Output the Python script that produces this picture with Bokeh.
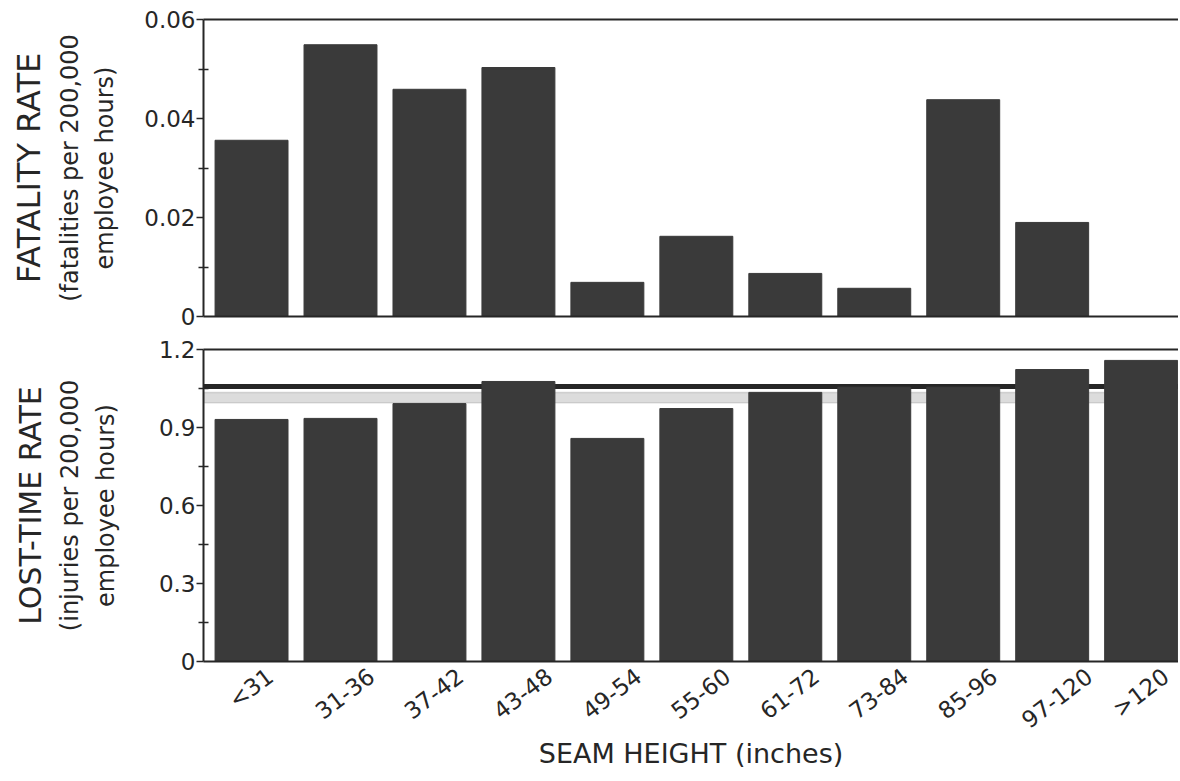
from bokeh.plotting import figure
from bokeh.models import Range1d, FixedTicker, LinearAxis, Title, Span, BoxAnnotation
from bokeh.layouts import column
from bokeh.embed import file_html
from bokeh.resources import INLINE

categories = ["<31", "31-36", "37-42", "43-48", "49-54", "55-60",
              "61-72", "73-84", "85-96", "97-120", ">120"]
fatality_rate = [0.0356, 0.0549, 0.0459, 0.0503, 0.0069, 0.0162,
                 0.0087, 0.0057, 0.0438, 0.0190, 0.0]
lost_time_rate = [0.931, 0.935, 0.992, 1.077, 0.858, 0.973,
                  1.035, 1.055, 1.055, 1.123, 1.158]
fat_ticks = [0, 0.02, 0.04, 0.06]
fat_minor = [0.01, 0.03, 0.05]
fat_labels = ["0", "0.02", "0.04", "0.06"]
lt_ticks = [0, 0.3, 0.6, 0.9, 1.2]
lt_minor = [0.15, 0.45, 0.75, 1.05]
lt_labels = ["0", "0.3", "0.6", "0.9", "1.2"]

FONT = "DejaVu Sans"
INK = "#262626"
BAR = "#3a3a3a"
W = 1178
x_pos = list(range(len(categories)))


def make_fig(height, y_end, top, bottom):
    p = figure(width=W, height=height, x_range=Range1d(-0.54, 10.42),
               y_range=Range1d(0, y_end), x_axis_type=None, y_axis_type=None,
               output_backend="svg", toolbar_location=None,
               min_border_left=203, min_border_right=0,
               min_border_top=top, min_border_bottom=bottom)
    p.outline_line_color = None
    p.background_fill_color = "white"
    p.border_fill_color = "white"
    return p


def border_axis():
    a = LinearAxis(ticker=FixedTicker(ticks=[]))
    a.major_label_text_font_size = "0px"
    a.major_tick_out = 0
    a.major_tick_in = 0
    a.minor_tick_out = 0
    a.minor_tick_in = 0
    a.major_label_standoff = 0
    a.axis_line_color = INK
    a.axis_line_width = 2
    return a


def y_axis(ticks, minor, labels, sub2, standoff):
    a = LinearAxis(ticker=FixedTicker(ticks=ticks, minor_ticks=minor))
    a.major_label_overrides = {t: l for t, l in zip(ticks, labels)}
    a.major_label_text_font = FONT
    a.major_label_text_font_size = "23px"
    a.major_label_text_color = INK
    a.major_label_standoff = 1
    a.major_tick_out = 7
    a.major_tick_in = 0
    a.minor_tick_out = 5
    a.minor_tick_in = 5
    a.major_tick_line_color = INK
    a.minor_tick_line_color = INK
    a.major_tick_line_width = 1.5
    a.minor_tick_line_width = 1.5
    a.axis_line_color = INK
    a.axis_line_width = 2
    a.axis_label = sub2
    a.axis_label_text_font = FONT
    a.axis_label_text_font_size = "24px"
    a.axis_label_text_font_style = "normal"
    a.axis_label_text_color = INK
    a.axis_label_standoff = standoff
    return a


def left_title(text, size, standoff):
    return Title(text=text, align="center", text_font=FONT,
                 text_font_size=size, text_font_style="normal",
                 text_color=INK, standoff=standoff)


# ---- top panel: fatality rate ----
p1 = make_fig(330, 0.06, 19, 14)
p1.vbar(x=x_pos, top=fatality_rate, width=0.82, fill_color=BAR, line_color=BAR)
p1.add_layout(y_axis(fat_ticks, fat_minor, fat_labels, "employee hours)", 22), "left")
p1.add_layout(left_title("(fatalities per 200,000", "24px", 10), "left")
p1.add_layout(left_title("FATALITY RATE", "32px", 2), "left")
p1.add_layout(border_axis(), "above")
p1.add_layout(border_axis(), "below")

# ---- bottom panel: lost-time rate ----
p2 = make_fig(450, 1.2, 19, 119)
p2.add_layout(BoxAnnotation(bottom=0.995, top=1.035, fill_color="#dcdcdc",
                            fill_alpha=1.0, line_color="#8a8a8a", line_width=1.5,
                            level="underlay"))
p2.add_layout(Span(location=1.058, dimension="width", line_color=INK,
                   line_width=5, level="underlay"))
p2.vbar(x=x_pos, top=lost_time_rate, width=0.82, fill_color=BAR, line_color=BAR)
p2.add_layout(y_axis(lt_ticks, lt_minor, lt_labels, "employee hours)", 36), "left")
p2.add_layout(left_title("(injuries per 200,000", "24px", 10), "left")
p2.add_layout(left_title("LOST-TIME RATE", "30px", 2), "left")
p2.add_layout(border_axis(), "above")

# rotated category labels, nudged so each one sits centred under its bar
label_ticks = [round(i + 0.07 * len(c), 2) for i, c in zip(x_pos, categories)]
xa = LinearAxis(ticker=FixedTicker(ticks=label_ticks))
xa.major_label_overrides = {t: c for t, c in zip(label_ticks, categories)}
xa.major_label_orientation = 0.65
xa.major_label_text_font = FONT
xa.major_label_text_font_size = "23px"
xa.major_label_text_color = INK
xa.major_label_standoff = 12
xa.major_tick_out = 0
xa.major_tick_in = 0
xa.minor_tick_out = 0
xa.minor_tick_in = 0
xa.axis_line_color = INK
xa.axis_line_width = 2
xa.axis_label = "SEAM HEIGHT (inches)"
xa.axis_label_text_font = FONT
xa.axis_label_text_font_size = "27px"
xa.axis_label_text_font_style = "normal"
xa.axis_label_text_color = INK
xa.axis_label_standoff = -9
p2.add_layout(xa, "below")

layout = column(p1, p2, spacing=0)
open("out.html", "w").write(file_html(layout, INLINE))
